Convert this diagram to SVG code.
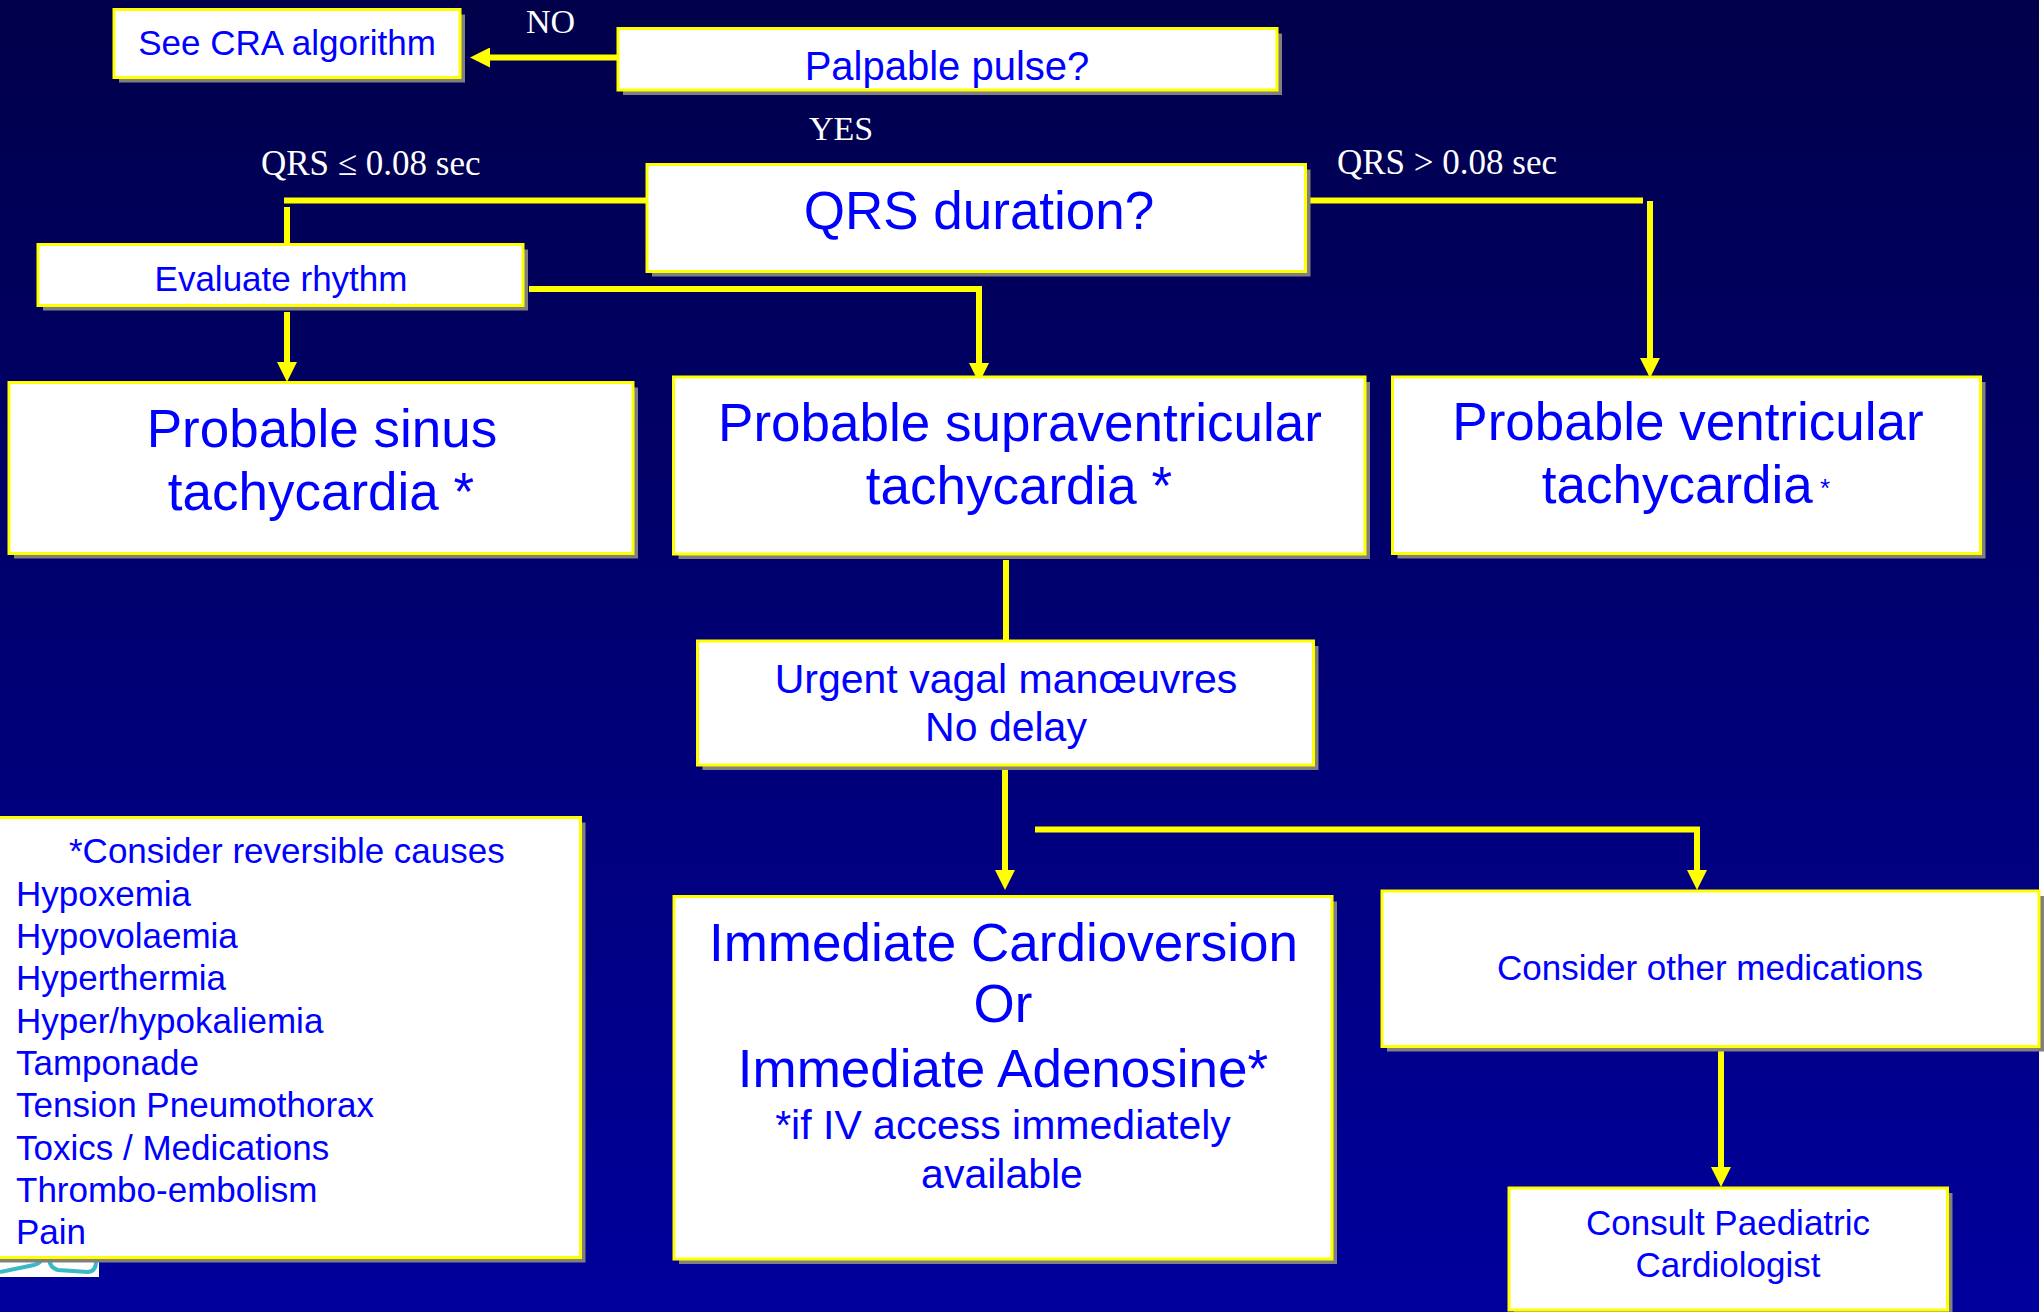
<svg xmlns="http://www.w3.org/2000/svg" width="2044" height="1312" viewBox="0 0 2044 1312">
  <defs>
    <linearGradient id="bg" x1="0" y1="0" x2="0" y2="1">
      <stop offset="0" stop-color="#00004a"/>
      <stop offset="1" stop-color="#00009c"/>
    </linearGradient>
    <marker id="ah" markerUnits="userSpaceOnUse" markerWidth="20" markerHeight="20" viewBox="0 0 20 20" refX="1" refY="10" orient="auto">
      <path d="M0,0 L20,10 L0,20 Z" fill="#ffff00"/>
    </marker>
    <style>
      .box { fill: #ffffff; stroke: #ffff00; stroke-width: 3; }
      .sh { fill: #808080; }
      .t { font-family: "Liberation Sans", Arial, Helvetica, sans-serif; fill: #0000ff; text-anchor: middle; }
      .tl { font-family: "Liberation Sans", Arial, Helvetica, sans-serif; fill: #0000ff; font-size: 35px; }
      .lbl { font-family: "Liberation Serif", "Times New Roman", "DejaVu Serif", serif; fill: #ffffff; }
      .ln { fill: none; stroke: #ffff00; stroke-width: 6; }
      .f35 { font-size: 35px; }
      .f40 { font-size: 40px; }
      .f41 { font-size: 41px; }
      .f53 { font-size: 53px; }
    </style>
  </defs>

  <rect x="0" y="0" width="2044" height="1312" fill="url(#bg)"/>
  <rect x="2039" y="0" width="5" height="1312" fill="#ffffff"/>

  <!-- partial logo at bottom left -->
  <g id="logo">
    <rect x="0" y="1262" width="99" height="15" fill="#ffffff"/>
    <path d="M0,1272 L34,1265 Q41,1263 42,1258" fill="none" stroke="#3cb8c8" stroke-width="4"/>
    <path d="M49,1259 Q50,1268 58,1270 L88,1272 Q96,1271 96,1262 L96,1258" fill="none" stroke="#3cb8c8" stroke-width="4"/>
  </g>

  <g id="connectors">
    <path class="ln" d="M618,57.5 H489" marker-end="url(#ah)"/>
    <path class="ln" d="M647,200.5 H284"/>
    <path class="ln" d="M287,207 V244"/>
    <path class="ln" d="M287,312 V363" marker-end="url(#ah)"/>
    <path class="ln" d="M529,289 H979 V364" marker-end="url(#ah)"/>
    <path class="ln" d="M1310,200.5 H1643"/>
    <path class="ln" d="M1650,201 V359" marker-end="url(#ah)"/>
    <path class="ln" d="M1006,560 V641"/>
    <path class="ln" d="M1005,770 V871" marker-end="url(#ah)"/>
    <path class="ln" d="M1035,829.5 H1697 V871" marker-end="url(#ah)"/>
    <path class="ln" d="M1721,1048 V1168" marker-end="url(#ah)"/>
  </g>

  <g id="node-cra">
    <rect class="sh" x="119" y="14.5" width="346" height="68"/>
    <rect class="box" x="114" y="9.5" width="346" height="68"/>
    <text class="t f35" x="287" y="55">See CRA algorithm</text>
  </g>

  <g id="node-pulse">
    <rect class="sh" x="623" y="33.5" width="659" height="61.5"/>
    <rect class="box" x="618" y="28.5" width="659" height="61.5"/>
    <text class="t f40" x="947" y="80">Palpable pulse?</text>
  </g>

  <g id="node-qrs">
    <rect class="sh" x="652" y="169.5" width="658.5" height="107"/>
    <rect class="box" x="647" y="164.5" width="658.5" height="107"/>
    <text class="t f53" x="979" y="229">QRS duration?</text>
  </g>

  <g id="node-eval">
    <rect class="sh" x="43" y="249.5" width="485" height="61"/>
    <rect class="box" x="38" y="244.5" width="485" height="61"/>
    <text class="t f35" x="281" y="291">Evaluate rhythm</text>
  </g>

  <g id="node-sinus">
    <rect class="sh" x="14" y="387.5" width="624" height="171"/>
    <rect class="box" x="9" y="382.5" width="624" height="171"/>
    <text class="t f53" x="322" y="446.5">Probable sinus</text>
    <text class="t f53" x="321" y="510">tachycardia *</text>
  </g>

  <g id="node-svt">
    <rect class="sh" x="678.5" y="382" width="691.5" height="177"/>
    <rect class="box" x="673.5" y="377" width="691.5" height="177"/>
    <text class="t f53" x="1020" y="441">Probable supraventricular</text>
    <text class="t f53" x="1019" y="504">tachycardia *</text>
  </g>

  <g id="node-vt">
    <rect class="sh" x="1397.5" y="382" width="588" height="176.5"/>
    <rect class="box" x="1392.5" y="377" width="588" height="176.5"/>
    <text class="t f53" x="1688" y="440">Probable ventricular</text>
    <text class="t f53" x="1686" y="503">tachycardia<tspan font-size="26" dy="-6"> *</tspan></text>
  </g>

  <g id="node-urgent">
    <rect class="sh" x="702.5" y="646" width="616" height="124"/>
    <rect class="box" x="697.5" y="641" width="616" height="124"/>
    <text class="t f41" x="1006" y="692.5">Urgent vagal manœuvres</text>
    <text class="t f41" x="1006" y="741">No delay</text>
  </g>

  <g id="node-causes">
    <rect class="sh" x="-5" y="822.5" width="590.5" height="440"/>
    <rect class="box" x="-10" y="817.5" width="590.5" height="440"/>
    <text class="tl" x="69" y="863">*Consider reversible causes</text>
    <text class="tl" x="16" y="905.7">Hypoxemia</text>
    <text class="tl" x="16" y="948">Hypovolaemia</text>
    <text class="tl" x="16" y="990.3">Hyperthermia</text>
    <text class="tl" x="16" y="1032.6">Hyper/hypokaliemia</text>
    <text class="tl" x="16" y="1074.9">Tamponade</text>
    <text class="tl" x="16" y="1117.2">Tension Pneumothorax</text>
    <text class="tl" x="16" y="1159.5">Toxics / Medications</text>
    <text class="tl" x="16" y="1201.8">Thrombo-embolism</text>
    <text class="tl" x="16" y="1244.1">Pain</text>
  </g>

  <g id="node-cardio">
    <rect class="sh" x="679" y="901.5" width="658" height="362.5"/>
    <rect class="box" x="674" y="896.5" width="658" height="362.5"/>
    <text class="t f53" x="1003.5" y="960.5">Immediate Cardioversion</text>
    <text class="t f53" x="1003" y="1022">Or</text>
    <text class="t f53" x="1003" y="1087">Immediate Adenosine*</text>
    <text class="t f41" x="1003" y="1138.5">*if IV access immediately</text>
    <text class="t f41" x="1002" y="1188">available</text>
  </g>

  <g id="node-other">
    <rect class="sh" x="1387" y="896" width="657" height="155.5"/>
    <rect class="box" x="1382" y="891" width="657" height="155.5"/>
    <text class="t f35" x="1710" y="980">Consider other medications</text>
  </g>

  <g id="node-consult">
    <rect class="sh" x="1514" y="1193" width="438.5" height="122"/>
    <rect class="box" x="1509" y="1188" width="438.5" height="122"/>
    <text class="t f35" x="1728" y="1235">Consult Paediatric</text>
    <text class="t f35" x="1728" y="1276.5">Cardiologist</text>
  </g>

  <g id="labels">
    <text class="lbl" x="526" y="33.3" font-size="34">NO</text>
    <text class="lbl" x="809" y="140" font-size="34">YES</text>
    <text class="lbl" x="261" y="175" font-size="35">QRS ≤ 0.08 sec</text>
    <text class="lbl" x="1337" y="173.5" font-size="35">QRS &gt; 0.08 sec</text>
  </g>
</svg>
